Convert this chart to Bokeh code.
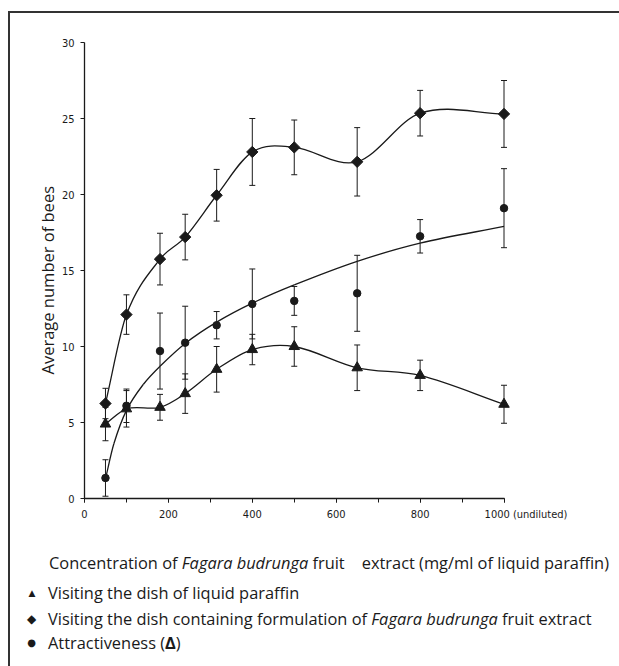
import numpy as np
from bokeh.plotting import figure
from bokeh.layouts import column
from bokeh.models import ColumnDataSource, Whisker, TeeHead, Title, SingleIntervalTicker, Div
from bokeh.embed import file_html
from bokeh.resources import INLINE

# ---- data ----
conc = [50, 100, 180, 240, 315, 400, 500, 650, 800, 1000]

paraffin = [4.9, 5.9, 6.0, 6.9, 8.5, 9.8, 10.0, 8.6, 8.1, 6.2]
paraffin_err = [1.1, 1.2, 0.85, 1.3, 1.5, 1.0, 1.3, 1.5, 1.0, 1.25]

extract = [6.25, 12.1, 15.75, 17.2, 19.95, 22.8, 23.1, 22.15, 25.35, 25.3]
extract_err = [1.0, 1.3, 1.7, 1.5, 1.7, 2.2, 1.8, 2.25, 1.5, 2.2]

attract = [1.35, 6.1, 9.7, 10.25, 11.4, 12.8, 13.0, 13.5, 17.25, 19.1]
attract_err = [1.2, 1.1, 2.5, 2.4, 0.9, 2.3, 0.95, 2.5, 1.1, 2.6]

fit_x = [50, 70, 100, 140, 180, 240, 315, 400, 500, 650, 800, 1000]
fit_y = [1.3, 3.6, 5.8, 7.5, 8.7, 10.2, 11.6, 12.85, 14.05, 15.6, 16.8, 17.9]

x_label_last = "1000 (undiluted)"
y_title = "Average number of bees"

INK = "#1a1a1a"
FONT = "Open Sans"


def hermite(xs, ys):
    xs = np.asarray(xs, float)
    ys = np.asarray(ys, float)
    n = len(xs)
    m = np.zeros(n)
    for i in range(n):
        if i == 0:
            m[i] = (ys[1] - ys[0]) / (xs[1] - xs[0])
        elif i == n - 1:
            m[i] = (ys[-1] - ys[-2]) / (xs[-1] - xs[-2])
        else:
            m[i] = (ys[i + 1] - ys[i - 1]) / (xs[i + 1] - xs[i - 1])
    h = xs[1:] - xs[:-1]
    return dict(
        x0=xs[:-1], y0=ys[:-1], x1=xs[1:], y1=ys[1:],
        cx0=xs[:-1] + h / 3, cy0=ys[:-1] + m[:-1] * h / 3,
        cx1=xs[1:] - h / 3, cy1=ys[1:] - m[1:] * h / 3,
    )


p = figure(width=609, height=517, x_range=(0, 1025), y_range=(0, 30),
           output_backend="svg", toolbar_location=None,
           min_border_left=74, min_border_right=105, min_border_top=29,
           min_border_bottom=32)
p.outline_line_color = None
p.grid.visible = False

for ax in (p.xaxis[0], p.yaxis[0]):
    ax.axis_line_color = INK
    ax.axis_line_width = 1.3
    ax.major_tick_line_color = INK
    ax.minor_tick_line_color = INK
    ax.major_tick_in = 0
    ax.minor_tick_in = 0
    ax.major_tick_out = 4
    ax.minor_tick_out = 4
    ax.major_label_text_font = "DejaVu Sans Condensed"
    ax.major_label_text_font_size = "11px"
    ax.major_label_text_color = INK

p.xaxis.ticker = SingleIntervalTicker(interval=200, num_minor_ticks=2)
p.xaxis.bounds = (0, 1000)
p.xaxis.major_label_standoff = 5
p.xaxis.major_label_overrides = {1000: "\u2007" * 7 + x_label_last}
p.yaxis.ticker = SingleIntervalTicker(interval=5, num_minor_ticks=0)
p.yaxis.major_label_standoff = 6

p.add_layout(Title(text=y_title, align="left", offset=124, standoff=0,
                   text_font=FONT, text_font_size="16.5px", text_font_style="normal",
                   text_color=INK), "left")

# curves
for xs, ys in ((conc, paraffin), (conc, extract), (fit_x, fit_y)):
    p.bezier(source=ColumnDataSource(hermite(xs, ys)), x0="x0", y0="y0", x1="x1", y1="y1",
             cx0="cx0", cy0="cy0", cx1="cx1", cy1="cy1", line_color=INK, line_width=1.3)

# error bars + markers
series = [
    (paraffin, paraffin_err, "triangle", 10.5, 0.0),
    (extract, extract_err, "square", 8, np.pi / 4),
    (attract, attract_err, "circle", 7.5, 0.0),
]
for ys, es, marker, size, ang in series:
    src = ColumnDataSource(dict(
        x=conc, y=ys,
        upper=[a + b for a, b in zip(ys, es)],
        lower=[a - b for a, b in zip(ys, es)],
    ))
    p.add_layout(Whisker(source=src, base="x", upper="upper", lower="lower",
                         line_color=INK, line_width=1,
                         upper_head=TeeHead(size=6, line_color=INK, line_width=1),
                         lower_head=TeeHead(size=6, line_color=INK, line_width=1)))
    p.scatter("x", "y", source=src, marker=marker, size=size, angle=ang,
              fill_color=INK, line_color=INK)

# ---- caption / key (HTML text) ----
caption = [
    # (left px, centre px, html)
    (39, 32.5, "Concentration of <i>Fagara budrunga</i> fruit&nbsp;&nbsp;&nbsp; extract (mg/ml of liquid paraffin)"),
    (38, 62.7, "Visiting the dish of liquid paraffin"),
    (38, 89.0, "Visiting the dish containing formulation of <i>Fagara budrunga</i> fruit extract"),
    (38, 113.0, "Attractiveness (<b>\u0394</b>)"),
]
keys = [(22, 62.7, "\u25B2", 9), (21.5, 89.0, "\u25C6", 12), (21.5, 113.0, "\u25CF", 10)]

spans = []
for left, cy, html in caption:
    spans.append(
        f'<span style="position:absolute;left:{left}px;top:{cy}px;transform:translateY(-50%);'
        f'white-space:nowrap;font-family:\'{FONT}\';font-size:16.4px;line-height:20px;color:{INK}">{html}</span>')
for left, cy, ch, fs in keys:
    spans.append(
        f'<span style="position:absolute;left:{left}px;top:{cy}px;transform:translate(-50%,-50%);'
        f'font-family:\'DejaVu Sans\';font-size:{fs}px;line-height:{fs}px;color:{INK}">{ch}</span>')

div = Div(text='<div style="position:relative;width:609px;height:136px;">' + "".join(spans) + "</div>",
          width=609, height=136, styles={"margin": "0", "padding": "0"})

layout = column(p, div, spacing=0)
layout.styles = {"margin-left": "8px", "margin-top": "11px",
                 "border-left": "2px solid #333", "border-top": "2px solid #333"}

open("out.html", "w").write(file_html(layout, INLINE))
